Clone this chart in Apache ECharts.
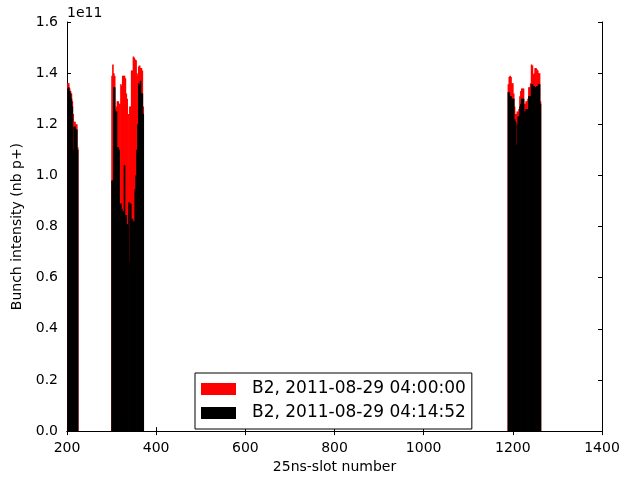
<!DOCTYPE html>
<html>
<head>
<meta charset="utf-8">
<script src="https://cdn.jsdelivr.net/npm/echarts@6/dist/echarts.min.js"></script>
<style>html,body{margin:0;padding:0;background:#fff;overflow:hidden}#c{width:631px;height:479px}</style>
</head>
<body>
<div id="c"></div>
<script>
// x ticks / y ticks
var xTicks = [200, 400, 600, 800, 1000, 1200, 1400];
var yTicks = [0.0, 0.2, 0.4, 0.6, 0.8, 1.0, 1.2, 1.4, 1.6];
var seriesNames = ['B2, 2011-08-29 04:00:00', 'B2, 2011-08-29 04:14:52'];

// 25ns slots of bunches (values in units of 1e11 p+)
var group1Slots = [202,204,206,208,210,212,214,216,218,220,222,224];
var group1Red   = [1.36,1.36,1.34,1.33,1.32,1.29,1.24,1.21,1.21,1.20,1.20,1.11];
var group1Black = [1.34,1.345,1.33,1.32,1.30,1.27,1.10,1.19,1.19,1.18,1.18,1.10];

var group2Slots = [301,303,305,307,309,311,313,315,317,319,321,323,325,327,329,331,333,335,
                   337,339,341,343,345,347,349,351,353,355,357,359,361,363,365,367,369,371];
var group2Red   = [1.39,1.434,1.40,1.39,1.26,1.27,1.29,1.29,1.28,1.28,1.357,1.35,1.39,1.39,1.39,1.38,1.32,1.30,
                   1.24,1.24,1.27,1.27,1.41,1.41,1.465,1.46,1.453,1.45,1.40,1.39,1.426,1.43,1.42,1.42,1.41,1.27];
var group2Black = [0.98,0.98,1.345,1.345,1.25,1.25,1.11,1.11,1.10,0.88,0.89,0.87,0.86,0.86,1.04,0.845,0.845,0.81,
                   0.80,0.895,0.66,0.89,0.83,0.83,0.82,0.82,0.945,1.0,1.1,1.2,1.36,1.355,1.37,1.32,1.32,1.24];

var group3Slots = [1190,1192,1194,1196,1198,1200,1202,1204,1206,1208,1210,1212,1214,1216,1218,1220,1222,1224,
                   1226,1228,1230,1232,1234,1236,1238,1240,1242,1244,1246,1248,1250,1252,1254,1256,1258,1260,1262];
var group3Red   = [1.357,1.385,1.39,1.385,1.36,1.36,1.32,1.27,1.24,1.24,1.25,1.25,1.26,1.31,1.33,1.34,1.34,1.34,
                   1.28,1.28,1.29,1.29,1.30,1.345,1.345,1.36,1.434,1.43,1.395,1.40,1.42,1.42,1.415,1.41,1.40,1.40,1.29];
var group3Black = [1.325,1.325,1.31,1.31,1.30,1.30,1.30,1.22,1.21,1.12,1.20,1.23,1.23,1.27,1.28,1.30,1.30,1.30,
                   1.25,1.25,1.26,1.26,1.26,1.31,1.31,1.31,1.357,1.357,1.35,1.35,1.345,1.345,1.35,1.35,1.357,1.357,1.28];

var slots = group1Slots.concat(group2Slots, group3Slots);
var redVals = group1Red.concat(group2Red, group3Red);
var blackVals = group1Black.concat(group2Black, group3Black);
function pairs(xs, ys) { return xs.map(function (x, i) { return [x, ys[i]]; }); }

var FONT = 'DejaVu Sans';
var chart = echarts.init(document.getElementById('c'), null, {renderer: 'canvas'});
var tickStyle = {show: true, inside: true, length: 4, lineStyle: {color: '#000', width: 1}};
var lineStyle = {show: true, lineStyle: {color: '#000', width: 1}};
var xmin = xTicks[0], xmax = xTicks[xTicks.length - 1], xint = xTicks[1] - xTicks[0];
var ymin = yTicks[0], ymax = yTicks[yTicks.length - 1], yint = 0.2;

chart.setOption({
  animation: false,
  backgroundColor: '#fff',
  grid: {left: 67, top: 22, width: 535, height: 415, containLabel: false},
  legend: {
    orient: 'vertical', left: 195, top: 373,
    data: seriesNames,
    icon: 'rect', itemWidth: 35, itemHeight: 12, itemGap: 6,
    padding: [7, 6, 7, 6],
    borderColor: '#000', borderWidth: 1, borderRadius: 0,
    backgroundColor: '#fff',
    textStyle: {fontFamily: FONT, fontSize: 17, color: '#000', padding: [0, 0, 0, 11], lineHeight: 18},
    selectedMode: false
  },
  xAxis: [{
    type: 'value', min: xmin, max: xmax, interval: xint,
    axisLine: lineStyle, axisTick: tickStyle, splitLine: {show: false},
    axisLabel: {fontFamily: FONT, fontSize: 14, color: '#000', margin: 10,
      formatter: function (v) { return String(v); }},
    name: '25ns-slot number', nameLocation: 'middle', nameGap: 26,
    nameTextStyle: {fontFamily: FONT, fontSize: 14, color: '#000'}
  }, {
    type: 'value', position: 'top', min: xmin, max: xmax, interval: xint,
    axisLine: lineStyle, axisTick: tickStyle, splitLine: {show: false}, axisLabel: {show: false}
  }],
  yAxis: [{
    type: 'value', min: ymin, max: ymax, interval: yint,
    axisLine: lineStyle, axisTick: tickStyle, splitLine: {show: false},
    axisLabel: {fontFamily: FONT, fontSize: 14, color: '#000', margin: 9,
      formatter: function (v) { return v.toFixed(1); }},
    name: 'Bunch intensity (nb p+)', nameLocation: 'middle', nameGap: 41,
    nameTextStyle: {fontFamily: FONT, fontSize: 14, color: '#000'}
  }, {
    type: 'value', position: 'right', min: ymin, max: ymax, interval: yint,
    axisLine: lineStyle, axisTick: tickStyle, splitLine: {show: false}, axisLabel: {show: false}
  }],
  graphic: [{
    type: 'text', left: 67, top: 6,
    style: {text: '1e11', fontFamily: FONT, fontSize: 14, fill: '#000'}
  }],
  series: [{
    name: seriesNames[0], type: 'bar', xAxisIndex: 0, yAxisIndex: 0,
    data: pairs(slots, redVals), barWidth: 1.6, barGap: '-100%',
    itemStyle: {color: '#ff0000'}
  }, {
    name: seriesNames[1], type: 'bar', xAxisIndex: 0, yAxisIndex: 0,
    data: pairs(slots, blackVals), barWidth: 1.6, barGap: '-100%',
    itemStyle: {color: '#000000'}
  }]
});
</script>
</body>
</html>
